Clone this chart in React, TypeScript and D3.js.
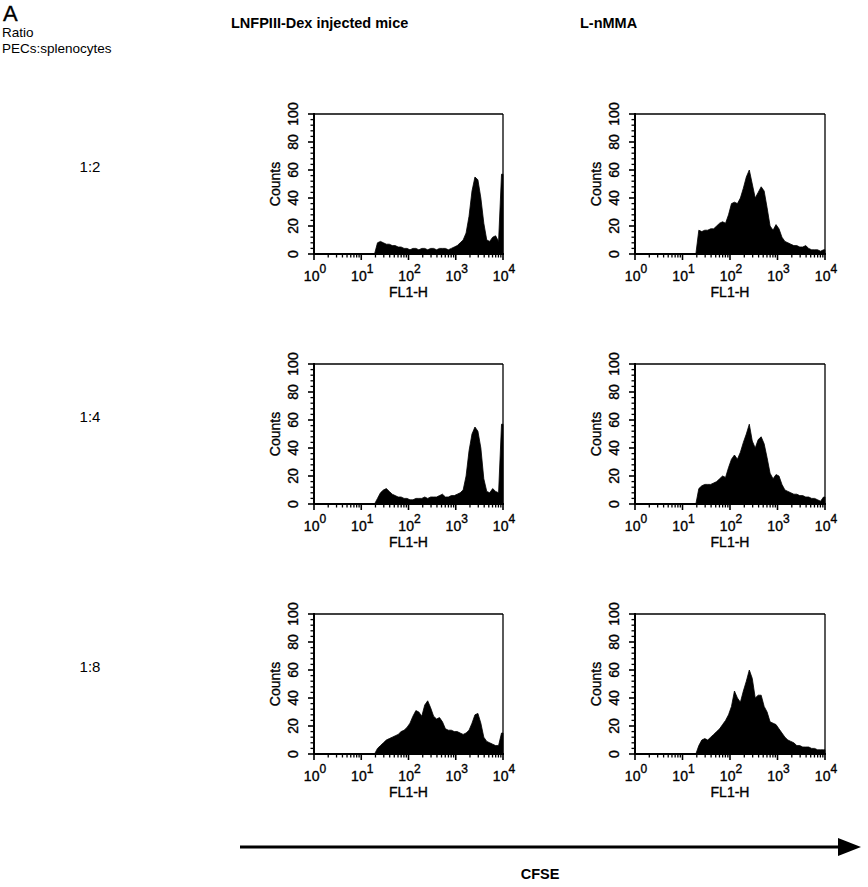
import React from "react";
import * as d3 from "d3";

// ---------- DATA ----------
const columnTitles = ["LNFPIII-Dex injected mice", "L-nMMA"];
const rowRatios = ["1:2", "1:4", "1:8"];
const yTickValues = [0, 20, 40, 60, 80, 100];
const yMinorStep = 4;
const xDecades = [0, 1, 2, 3, 4];
const binsPerDecade = 16; // 64 channels across 10^0 .. 10^4

// counts per channel (64 channels, log-spaced, 1/16 decade each)
const lnfp_1_2 = [
  0, 0, 0, 0, 0, 0, 0, 0, 0, 0, 0, 0, 0, 0, 0, 0, 0, 0, 0, 0, 0,
  8, 9, 8, 7, 7, 6, 6, 5, 5, 4, 4, 3, 4, 4, 3, 4, 4, 3, 4, 4, 3, 4, 4, 4, 3, 4,
  5, 6, 8, 10, 15, 27, 45, 55, 53, 40, 22, 10, 9, 12, 13, 9, 57,
];
const lnmma_1_2 = [
  0, 0, 0, 0, 0, 0, 0, 0, 0, 0, 0, 0, 0, 0, 0, 0, 0, 0, 0, 0, 0,
  17, 16, 17, 17, 18, 18, 20, 22, 23, 22, 28, 36, 37, 36, 40, 47, 55, 60, 50, 40,
  44, 48, 45, 33, 20, 17, 21, 18, 12, 9, 8, 7, 6, 6, 5, 5, 6, 4, 3, 3, 3, 2, 3,
];
const lnfp_1_4 = [
  0, 0, 0, 0, 0, 0, 0, 0, 0, 0, 0, 0, 0, 0, 0, 0, 0, 0, 0, 0, 0,
  4, 8, 10, 11, 9, 7, 6, 5, 5, 4, 4, 3, 3, 4, 4, 4, 5, 4, 5, 5, 5, 6, 7, 5, 5, 6,
  6, 7, 8, 10, 20, 38, 50, 55, 52, 40, 18, 9, 8, 11, 9, 8, 57,
];
const lnmma_1_4 = [
  0, 0, 0, 0, 0, 0, 0, 0, 0, 0, 0, 0, 0, 0, 0, 0, 0, 0, 0, 0, 0,
  11, 13, 14, 14, 14, 15, 16, 18, 20, 19, 26, 32, 35, 32, 37, 44, 50, 57, 45, 40,
  46, 48, 43, 33, 22, 18, 21, 20, 14, 10, 9, 8, 7, 7, 6, 6, 5, 5, 4, 4, 3, 2, 5,
];
const lnfp_1_8 = [
  0, 0, 0, 0, 0, 0, 0, 0, 0, 0, 0, 0, 0, 0, 0, 0, 0, 0, 0, 0, 0,
  4, 6, 8, 10, 11, 12, 13, 14, 16, 17, 19, 22, 27, 31, 30, 27, 35, 38, 33, 27,
  25, 26, 23, 18, 17, 17, 16, 16, 15, 14, 15, 17, 22, 28, 29, 22, 12, 9, 8, 7, 6, 6, 15,
];
const lnmma_1_8 = [
  0, 0, 0, 0, 0, 0, 0, 0, 0, 0, 0, 0, 0, 0, 0, 0, 0, 0, 0, 0, 0,
  6, 10, 11, 10, 12, 14, 16, 18, 21, 24, 28, 34, 45, 40, 37, 45, 52, 60, 54, 40,
  42, 42, 34, 30, 23, 22, 21, 18, 15, 12, 10, 9, 8, 6, 6, 5, 5, 5, 4, 4, 3, 3, 3,
];

const histograms = [
  [lnfp_1_2, lnmma_1_2],
  [lnfp_1_4, lnmma_1_4],
  [lnfp_1_8, lnmma_1_8],
];

// ---------- LAYOUT ----------
const W = 868;
const H = 887;
const colX = [
  [314, 503],
  [635, 825],
];
const rowTop = [114, 364, 614];
const plotH = 140;
const FONT = "'Liberation Sans', Arial, Helvetica, sans-serif";
const inkStroke = { stroke: "#000", strokeWidth: 0.35 };

function Panel({ values, x0, x1, top }: { values: number[]; x0: number; x1: number; top: number }) {
  const bottom = top + plotH;
  const xs = d3.scaleLog().domain([1, 1e4]).range([x0, x1]);
  const ys = d3.scaleLinear().domain([0, 100]).range([bottom, top]);

  const pts: [number, number][] = [];
  pts.push([1, values[0]]);
  values.forEach((v, i) => pts.push([Math.pow(10, (i + 0.5) / binsPerDecade), v]));
  pts.push([1e4, values[values.length - 1]]);

  const area = d3
    .area<[number, number]>()
    .x((d) => xs(d[0]))
    .y0(ys(0))
    .y1((d) => ys(d[1]))
    .curve(d3.curveLinear);

  const minorY = d3.range(0, 100 + 0.001, yMinorStep).filter((v) => !yTickValues.includes(v));
  const minorX: number[] = [];
  for (let k = 0; k < 4; k++) for (let m = 2; m <= 9; m++) minorX.push(m * Math.pow(10, k));

  const midY = (top + bottom) / 2;

  return (
    <g>
      <path d={area(pts) || ""} fill="#000" stroke="#000" strokeWidth={0.8} />
      {/* frame */}
      <line x1={x0} x2={x1} y1={top} y2={top} stroke="#000" strokeWidth={1.3} />
      <line x1={x1} x2={x1} y1={top} y2={bottom} stroke="#000" strokeWidth={1.3} />
      <line x1={x0} x2={x0} y1={top - 1} y2={bottom + 1} stroke="#000" strokeWidth={2} />
      <line x1={x0 - 1} x2={x1 + 1} y1={bottom} y2={bottom} stroke="#000" strokeWidth={2.2} />
      {/* y ticks */}
      {yTickValues.map((v) => (
        <line key={"yM" + v} x1={x0 - 6} x2={x0} y1={ys(v)} y2={ys(v)} stroke="#000" strokeWidth={1.6} />
      ))}
      {minorY.map((v) => (
        <line key={"ym" + v} x1={x0 - 3.5} x2={x0} y1={ys(v)} y2={ys(v)} stroke="#000" strokeWidth={1.3} />
      ))}
      {yTickValues.map((v) => (
        <text
          key={"yl" + v}
          transform={`translate(${x0 - 21},${ys(v)}) rotate(-90)`}
          textAnchor="middle"
          dy="0.36em"
          fontSize={14}
          fontFamily={FONT}
          {...inkStroke}
        >
          {v}
        </text>
      ))}
      <text
        transform={`translate(${x0 - 39},${midY}) rotate(-90)`}
        textAnchor="middle"
        dy="0.36em"
        fontSize={14}
        fontFamily={FONT}
        {...inkStroke}
      >
        Counts
      </text>
      {/* x ticks */}
      {xDecades.map((k) => (
        <line key={"xM" + k} x1={xs(Math.pow(10, k))} x2={xs(Math.pow(10, k))} y1={bottom} y2={bottom + 6} stroke="#000" strokeWidth={1.6} />
      ))}
      {minorX.map((v) => (
        <line key={"xm" + v} x1={xs(v)} x2={xs(v)} y1={bottom} y2={bottom + 3.5} stroke="#000" strokeWidth={1.3} />
      ))}
      {xDecades.map((k) => (
        <text key={"xl" + k} x={xs(Math.pow(10, k)) + 1} y={bottom + 27} textAnchor="middle" fontSize={14} fontFamily={FONT} {...inkStroke}>
          10
          <tspan dy={-8} fontSize={12}>
            {k}
          </tspan>
        </text>
      ))}
      <text x={(x0 + x1) / 2} y={bottom + 43} textAnchor="middle" fontSize={14} fontFamily={FONT} {...inkStroke}>
        FL1-H
      </text>
    </g>
  );
}

export default function App() {
  return (
    <svg
      width={W}
      height={H}
      viewBox={`0 0 ${W} ${H}`}
      style={{ position: "absolute", left: 0, top: 0, background: "#fff" }}
    >
      <rect x={0} y={0} width={W} height={H} fill="#fff" />
      <text x={3} y={21} fontSize={22} fontFamily={FONT} {...inkStroke}>
        A
      </text>
      <text x={2} y={37} fontSize={13.5} fontFamily={FONT}>
        Ratio
      </text>
      <text x={2} y={53} fontSize={13.5} fontFamily={FONT}>
        PECs:splenocytes
      </text>
      <text x={231} y={28} fontSize={14.5} fontWeight="bold" fontFamily={FONT}>
        {columnTitles[0]}
      </text>
      <text x={580} y={28} fontSize={14.5} fontWeight="bold" fontFamily={FONT}>
        {columnTitles[1]}
      </text>
      {rowRatios.map((r, i) => (
        <text key={r} x={90} y={rowTop[i] + 58} textAnchor="middle" fontSize={15} fontFamily={FONT}>
          {r}
        </text>
      ))}
      {histograms.map((row, ri) =>
        row.map((vals, ci) => (
          <Panel key={ri + "-" + ci} values={vals} x0={colX[ci][0]} x1={colX[ci][1]} top={rowTop[ri]} />
        ))
      )}
      {/* CFSE arrow */}
      <line x1={240} x2={842} y1={847} y2={847} stroke="#000" strokeWidth={3} />
      <path d="M838,838 L861,847 L838,856 Z" fill="#000" />
      <text x={540} y={879} textAnchor="middle" fontSize={14.5} fontWeight="bold" fontFamily={FONT}>
        CFSE
      </text>
    </svg>
  );
}
